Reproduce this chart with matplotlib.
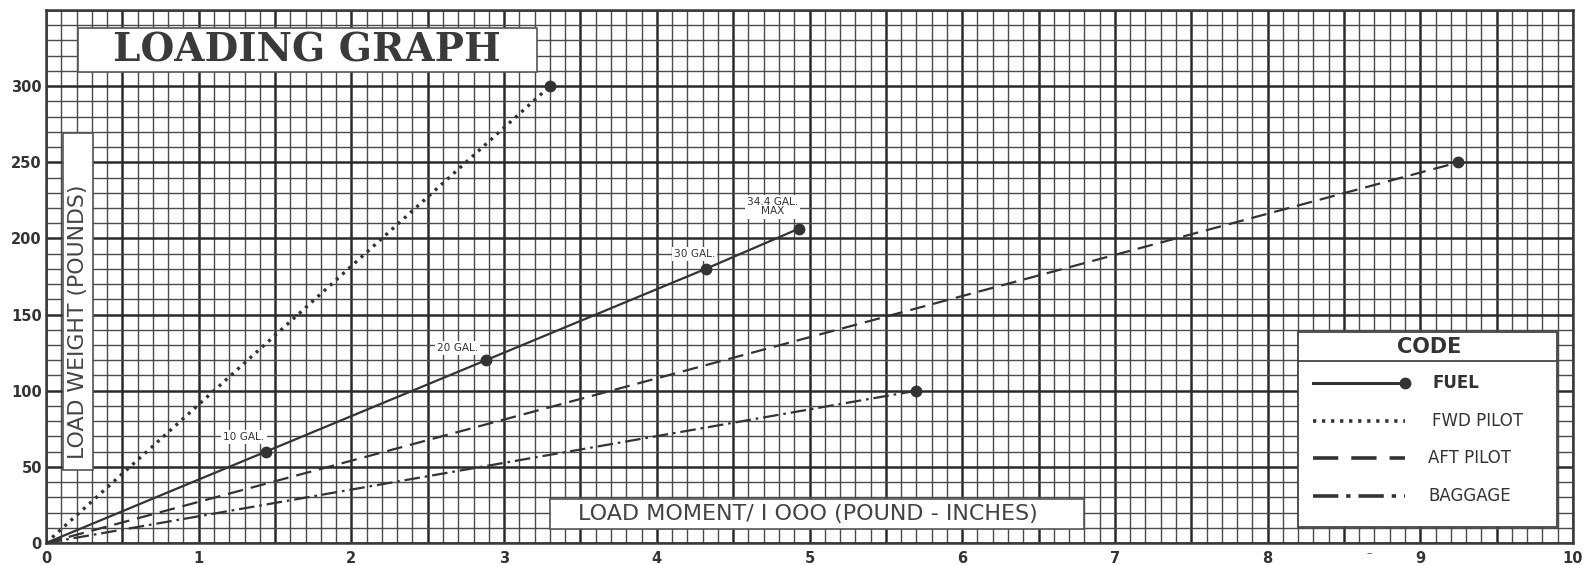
import matplotlib
matplotlib.use('Agg')
import matplotlib.pyplot as plt
from matplotlib.ticker import MultipleLocator, FuncFormatter
from matplotlib.patches import Rectangle
from matplotlib.lines import Line2D

# ---------------- data ----------------
fuel_moment = [0, 1.44, 2.88, 4.32, 4.93]
fuel_weight = [0, 60, 120, 180, 206.4]
fuel_labels = ['', '10 GAL.', '20 GAL.', '30 GAL.', '34.4 GAL.\nMAX']
fwd_moment = [0, 3.30]
fwd_weight = [0, 300]
aft_moment = [0, 9.25]
aft_weight = [0, 250]
bag_moment = [0, 5.70]
bag_weight = [0, 100]
series_names = ['FUEL', 'FWD PILOT', 'AFT PILOT', 'BAGGAGE']
title_text = 'LOADING GRAPH'
legend_title = 'CODE'
x_label = 'LOAD MOMENT/ I OOO (POUND - INCHES)'
y_label = 'LOAD WEIGHT (POUNDS)'
x_max, y_max, y_label_max = 10, 350, 300

# ---------------- layout ----------------
W, H = 1585, 565
L, T, R, B = 46, 10, 1573, 543
INK = '#333333'

fig = plt.figure(figsize=(W / 100, H / 100), dpi=100)
fig.patch.set_facecolor('white')
ax = fig.add_axes([L / W, 1 - B / H, (R - L) / W, (B - T) / H])
ax.set_xlim(0, x_max)
ax.set_ylim(0, y_max)
ax.set_axisbelow(True)


def px(x, y):
    """pixel position -> axes fraction"""
    return (x - L) / (R - L), (B - y) / (B - T)


# grid
ax.xaxis.set_major_locator(MultipleLocator(0.5))
ax.xaxis.set_minor_locator(MultipleLocator(0.1))
ax.yaxis.set_major_locator(MultipleLocator(50))
ax.yaxis.set_minor_locator(MultipleLocator(10))
ax.xaxis.set_major_formatter(FuncFormatter(
    lambda v, p: f'{int(round(v))}' if abs(v - round(v)) < 1e-6 else ''))
ax.yaxis.set_major_formatter(FuncFormatter(
    lambda v, p: f'{int(round(v))}' if v <= y_label_max + 1e-6 else ''))
ax.grid(which='minor', color='#4a4a4a', linewidth=1.0)
ax.grid(which='major', color='#2a2a2a', linewidth=1.8)
ax.tick_params(which='both', length=0)
ax.tick_params(axis='x', pad=6, labelsize=10.5, labelcolor=INK)
ax.tick_params(axis='y', pad=3, labelsize=10.5, labelcolor=INK)
for lab in ax.get_xticklabels() + ax.get_yticklabels():
    lab.set_fontweight('bold')
for s in ax.spines.values():
    s.set_color('#3a3a3a')
    s.set_linewidth(1.8)

# series styles
st_fuel = dict(color=INK, lw=1.6, ls='-', marker='o', ms=7.5)
st_fwd = dict(color=INK, lw=2.4, ls=(0, (0.9, 1.6)), marker='o', ms=7.5)
st_aft = dict(color=INK, lw=1.6, ls=(0, (7, 3.6)), marker='o', ms=7.5)
st_bag = dict(color=INK, lw=1.6, ls=(0, (7, 2.2, 1.2, 2.2)), marker='o', ms=7.5)

ax.plot(fuel_moment, fuel_weight, markevery=list(range(1, len(fuel_moment))),
        zorder=5, **st_fuel)
ax.plot(fwd_moment, fwd_weight, markevery=[-1], zorder=5, **st_fwd)
ax.plot(aft_moment, aft_weight, markevery=[-1], zorder=5, **st_aft)
ax.plot(bag_moment, bag_weight, markevery=[-1], zorder=5, **st_bag)

# fuel annotations (offsets in pixels)
label_offsets = [None, (-22, 15), (-28, 12), (-11, 15), (-26, 22)]
for xm, yw, lab, off in zip(fuel_moment, fuel_weight, fuel_labels, label_offsets):
    if not lab:
        continue
    ax.annotate(lab, (xm, yw), xytext=(off[0] * 0.72, off[1] * 0.72),
                textcoords='offset points', ha='center', va='center',
                fontsize=7.6, color=INK, linespacing=0.95, zorder=6,
                bbox=dict(boxstyle='square,pad=0.2', fc='white', ec='none'))


def box(x0, y0, x1, y1, lw=1.2, ec='#555555'):
    a0 = px(x0, y1)
    a1 = px(x1, y0)
    r = Rectangle(a0, a1[0] - a0[0], a1[1] - a0[1], transform=ax.transAxes,
                  fc='white', ec=ec, lw=lw, zorder=4, clip_on=False)
    ax.add_patch(r)


# title box
box(78, 28, 537, 72)
ax.text(*px(307, 50), title_text, transform=ax.transAxes, ha='center',
        va='center', fontsize=28, family='DejaVu Serif', fontweight='bold',
        color='#3a3a3a', zorder=7)

# y label box
box(63, 133, 93, 470)
ax.text(*px(78, 322), y_label, transform=ax.transAxes, ha='center',
        va='center', rotation=90, fontsize=15.8, color='#444444', zorder=7)

# x label box
box(550, 499, 1084, 529)
ax.text(*px(808, 514), x_label, transform=ax.transAxes, ha='center',
        va='center', fontsize=16, color='#444444', zorder=7)

# legend
box(1298, 332, 1557, 527, lw=1.3, ec='#444444')
ax.add_line(Line2D([px(1298, 361)[0], px(1557, 361)[0]],
                   [px(1298, 361)[1]] * 2, transform=ax.transAxes,
                   color='#444444', lw=1.3, zorder=7))
ax.text(*px(1429, 347), legend_title, transform=ax.transAxes, ha='center',
        va='center', fontsize=15, fontweight='bold', color=INK, zorder=7)
leg_rows = [383, 421, 458, 496]
leg_text_x = [1432, 1432, 1428, 1428]
for name, st, yy, tx in zip(series_names, [st_fuel, st_fwd, st_aft, st_bag],
                            leg_rows, leg_text_x):
    s = dict(st)
    mk = s.pop('marker')
    ms = s.pop('ms')
    xa0, ya = px(1313, yy)
    xa1, _ = px(1405, yy)
    ln = Line2D([xa0, xa1], [ya, ya], transform=ax.transAxes, zorder=8,
                marker=mk if name == series_names[0] else None,
                ms=ms, markevery=[1], **s)
    if name != series_names[0]:
        ln.set_linewidth(2.6)
    else:
        ln.set_linewidth(2.2)
    ax.add_line(ln)
    ax.text(*px(tx, yy), name, transform=ax.transAxes, ha='left',
            va='center', fontsize=12,
            fontweight='bold' if name == series_names[0] else 'normal',
            color=INK, zorder=8)

# small stray blue mark under the axis
fig.text(1369 / W, 1 - 553 / H, '\u2013', color='#3040c0', fontsize=8,
         ha='center', va='center')

fig.savefig('out.png', dpi=100, facecolor='white')
